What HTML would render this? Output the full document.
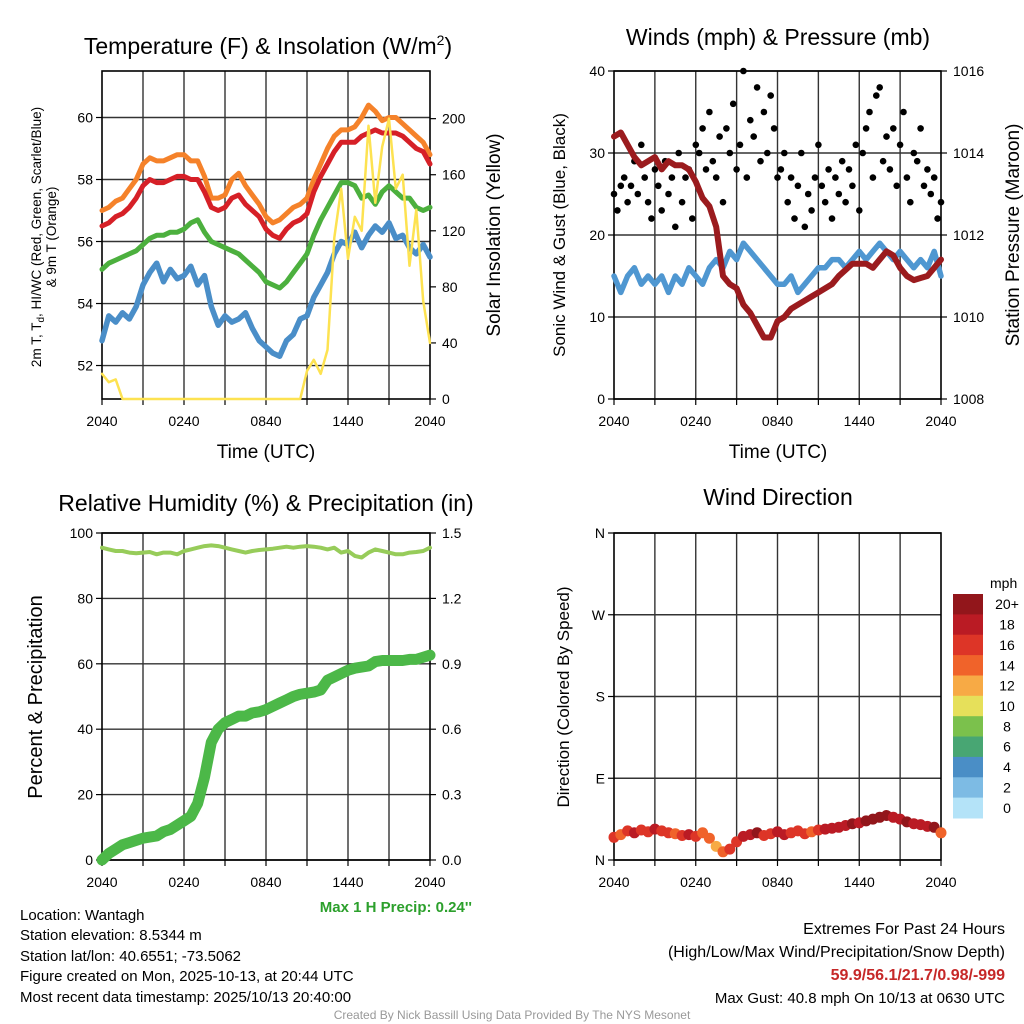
<!DOCTYPE html>
<html><head><meta charset="utf-8"><style>
html,body{margin:0;padding:0;background:#fff;}
svg{display:block;font-family:"Liberation Sans",Arial,sans-serif;}
</style></head><body>
<svg id="fig" width="1024" height="1024" viewBox="0 0 1024 1024" xmlns="http://www.w3.org/2000/svg">
<rect width="1024" height="1024" fill="#fff"/>
<g id="g1"></g>
<g id="g2"></g>
<g id="g3"></g>
<g id="g4"></g>
<text x="268" y="54" font-size="23" text-anchor="middle">Temperature (F) &amp; Insolation (W/m<tspan font-size="14" dy="-9">2</tspan><tspan dy="9">)</tspan></text>
<text x="778" y="45" font-size="23" text-anchor="middle">Winds (mph) &amp; Pressure (mb)</text>
<text x="266" y="511" font-size="23" text-anchor="middle">Relative Humidity (%) &amp; Precipitation (in)</text>
<text x="778" y="505" font-size="23" text-anchor="middle">Wind Direction</text>

<text x="266" y="458" font-size="19" text-anchor="middle">Time (UTC)</text>
<text x="778" y="458" font-size="19" text-anchor="middle">Time (UTC)</text>
<text transform="translate(41,237) rotate(-90)" font-size="13.5" text-anchor="middle">2m T, T<tspan font-size="10" dy="3">d</tspan><tspan dy="-3">, HI/WC (Red, Green, Scarlet/Blue)</tspan></text>
<text transform="translate(56,237) rotate(-90)" font-size="13.5" text-anchor="middle">&amp; 9m T (Orange)</text>
<text transform="translate(500,235) rotate(-90)" font-size="19" text-anchor="middle">Solar Insolation (Yellow)</text>
<text transform="translate(565,235) rotate(-90)" font-size="17" text-anchor="middle">Sonic Wind &amp; Gust (Blue, Black)</text>
<text transform="translate(1019,235) rotate(-90)" font-size="19" text-anchor="middle">Station Pressure (Maroon)</text>
<text transform="translate(42,697) rotate(-90)" font-size="20" text-anchor="middle">Percent &amp; Precipitation</text>
<text transform="translate(569,697) rotate(-90)" font-size="17" text-anchor="middle">Direction (Colored By Speed)</text>

<text x="472" y="912" font-size="15" font-weight="bold" fill="#2ca02c" text-anchor="end">Max 1 H Precip: 0.24''</text>
<g font-size="15">
<text x="20" y="920">Location: Wantagh</text>
<text x="20" y="940">Station elevation: 8.5344 m</text>
<text x="20" y="961">Station lat/lon: 40.6551; -73.5062</text>
<text x="20" y="981">Figure created on Mon, 2025-10-13, at 20:44 UTC</text>
<text x="20" y="1002">Most recent data timestamp: 2025/10/13 20:40:00</text>
</g>
<g font-size="16" text-anchor="end">
<text x="1005" y="934">Extremes For Past 24 Hours</text>
<text x="1005" y="957">(High/Low/Max Wind/Precipitation/Snow Depth)</text>
<text x="1005" y="980" fill="#c62828" font-weight="bold">59.9/56.1/21.7/0.98/-999</text>
<text x="1005" y="1003" font-size="15">Max Gust: 40.8 mph On 10/13 at 0630 UTC</text>
</g>
<text x="512" y="1019" font-size="12" fill="#999" text-anchor="middle">Created By Nick Bassill Using Data Provided By The NYS Mesonet</text>
</svg>
<script>
// ---- data (30-minute samples from 2040 UTC to 2040 UTC) ----
const xTickLabels = ["2040","0240","0840","1440","2040"];
const tempRed = [56.5,56.6,56.8,56.9,57.1,57.4,57.8,58.0,57.9,57.9,58.0,58.1,58.1,58.0,58.0,57.6,57.1,57.0,57.1,57.4,57.5,57.2,57.0,56.8,56.4,56.2,56.1,56.4,56.6,56.7,56.9,57.6,58.1,58.5,58.9,59.2,59.2,59.2,59.4,59.5,59.6,59.5,59.5,59.5,59.4,59.2,59.0,58.9,58.5];
const tempOrange = [57.0,57.1,57.3,57.4,57.7,58.0,58.5,58.7,58.6,58.6,58.7,58.8,58.8,58.6,58.6,58.1,57.4,57.4,57.5,58.0,58.2,57.8,57.5,57.2,56.8,56.6,56.7,56.9,57.1,57.2,57.4,58.0,58.5,59.0,59.4,59.6,59.6,59.7,60.0,60.4,60.2,59.9,60.0,60.0,59.8,59.6,59.4,59.2,58.8];
const dewGreen = [55.1,55.3,55.4,55.5,55.6,55.7,55.9,56.1,56.2,56.2,56.3,56.3,56.4,56.6,56.7,56.3,56.0,55.9,55.8,55.7,55.6,55.4,55.2,55.0,54.7,54.6,54.5,54.7,55.0,55.3,55.6,56.2,56.7,57.1,57.5,57.9,57.9,57.8,57.4,57.5,57.2,57.6,57.8,57.6,57.4,57.4,57.1,57.0,57.1];
const wcBlue = [52.8,53.6,53.4,53.7,53.5,53.9,54.6,55.0,55.3,54.7,55.1,54.8,54.9,55.2,54.6,54.9,53.9,53.3,53.6,53.4,53.5,53.7,53.2,52.8,52.6,52.4,52.3,52.8,53.0,53.5,53.6,54.2,54.6,55.0,55.6,56.0,55.9,56.3,55.8,56.2,56.5,56.3,56.6,56.1,56.2,55.8,55.6,55.9,55.5];
const insolation = [18,12,14,0,0,0,0,0,0,0,0,0,0,0,0,0,0,0,0,0,0,0,0,0,0,0,0,0,0,0,20,28,18,35,115,150,100,130,120,195,140,180,200,150,160,95,135,70,40];
const tempTicks = [52,54,56,58,60];
const solarTicks = [0,40,80,120,160,200];
const windSonic = [15,13,15,16,14,15,14,15,13,15,14,16,15,14,16,17,16,18,17,19,18,17,16,15,14,14,15,13,14,15,16,16,17,17,16,17,18,17,18,19,18,17,18,17,16,17,16,18,15];
const pressure = [1014.4,1014.5,1014.2,1013.9,1013.7,1013.8,1013.9,1013.6,1013.8,1013.7,1013.7,1013.6,1013.3,1012.9,1012.7,1012.2,1011.0,1010.8,1010.7,1010.3,1010.1,1009.8,1009.5,1009.5,1009.9,1010.0,1010.2,1010.3,1010.4,1010.5,1010.6,1010.7,1010.8,1011.0,1011.15,1011.3,1011.3,1011.3,1011.2,1011.4,1011.6,1011.5,1011.2,1011.0,1010.9,1010.95,1011.0,1011.2,1011.4];
// gusts every 15 minutes
const gusts = [25,23,26,27,24,26,29,25,31, 27,24,22,28,26,23,29,25, 27,21,30,24,27,28,22,31, 30,33,28,35,29,27,32,24, 33,30,36,28,31,40,27,34, 32,38,29,35,30,37,33,27, 28,30,24,27,22,26,30,21, 25,23,27,31,26,24,28,22, 27,25,29,24,28,26,31,23, 30,33,35,27,37,38,29,32, 28,33,26,31,35,27,24,30, 29,33,26,28,25,27,22,24];
const windTicks = [0,10,20,30,40];
const pressTicks = [1008,1010,1012,1014,1016];
const rh = [95.5,95,94.5,94.5,94,93.8,94,94.2,93.5,94,94,93.5,94.5,95,95.5,96,96.2,96,95.5,95,94.5,94,94.5,94.8,95,95.2,95.5,95.8,95.5,95.8,96,95.8,95.5,95,95.5,94,94.5,93,92.5,94,95,94.5,94,93.5,93.5,94,94.2,94.5,95.5];
const precip = [0,0.03,0.05,0.07,0.08,0.09,0.10,0.105,0.11,0.13,0.14,0.16,0.18,0.2,0.26,0.38,0.54,0.6,0.63,0.645,0.66,0.66,0.675,0.68,0.69,0.705,0.72,0.735,0.75,0.76,0.765,0.77,0.78,0.825,0.84,0.855,0.87,0.88,0.885,0.89,0.91,0.915,0.915,0.915,0.915,0.92,0.92,0.93,0.94];
const pctTicks = [0,20,40,60,80,100];
const precipTicks = ["0.0","0.3","0.6","0.9","1.2","1.5"];
const direction = [25,28,32,30,33,31,34,32,30,29,27,28,26,30,24,15,9,12,20,26,28,30,27,29,31,28,30,32,29,31,33,34,35,36,38,40,41,43,45,47,49,47,45,42,40,39,37,36,30];
const dirSpeed = [15,14,16,17,16,15,18,16,15,14,16,17,15,14,13,12,14,16,15,18,17,19,16,15,17,18,16,15,16,14,15,17,18,17,18,19,18,20,19,21,20,18,17,19,18,17,18,19,14];
const dirTicks = ["N","E","S","W","N"];
const cbLabels = ["0","2","4","6","8","10","12","14","16","18","20+"];
const cbColors = ["#b4e3f8","#7dbbe4","#4a8ec6","#48a673","#7bc14c","#e6e05a","#f7aa45","#f0632a","#dd3527","#ba1b24","#92161b"];

const NS = "http://www.w3.org/2000/svg";
function mk(parent, tag, attrs, text){
  const e = document.createElementNS(NS, tag);
  for (const k in attrs) e.setAttribute(k, attrs[k]);
  if (text !== undefined) e.textContent = text;
  parent.appendChild(e);
  return e;
}
function xScale(P){ return i => P.L + (P.R - P.L) * i / 48; }
function lin(d0,d1,P){ return v => P.B - (v - d0) / (d1 - d0) * (P.B - P.T); }

function frame(g, P, leftTicks, leftLab, rightTicks, rightLab, name){
  for (let k = 1; k < 8; k++){
    const x = P.L + (P.R-P.L)*k/8;
    const l = mk(g,'line',{x1:x,x2:x,y1:P.T,y2:P.B,stroke:'#333','stroke-width':1.4});
    
    
  }
  leftTicks.forEach((y,i)=>{
    const l = mk(g,'line',{x1:P.L,x2:P.R,y1:y,y2:y,stroke:'#333','stroke-width':1.4});
    
    
    mk(g,'line',{x1:P.L-6,x2:P.L,y1:y,y2:y,stroke:'#000','stroke-width':1.2});
    const t = mk(g,'text',{x:P.L-9,y:y+5,'font-size':14,'text-anchor':'end'}, leftLab[i]);
    
    
  });
  if (rightTicks) rightTicks.forEach((y,i)=>{
    mk(g,'line',{x1:P.R,x2:P.R+6,y1:y,y2:y,stroke:'#000','stroke-width':1.2});
    const t = mk(g,'text',{x:P.R+12,y:y+5,'font-size':14}, rightLab[i]);
    
    
  });
  for (let k = 0; k <= 8; k++){
    const x = P.L + (P.R-P.L)*k/8;
    mk(g,'line',{x1:x,x2:x,y1:P.B,y2:P.B+6,stroke:'#000','stroke-width':1.2});
  }
  xTickLabels.forEach((s,k)=>{
    const x = P.L + (P.R-P.L)*k/4;
    const t = mk(g,'text',{x:x,y:P.B+27,'font-size':14,'text-anchor':'middle'}, s);
    
    
  });
  const r = mk(g,'rect',{x:P.L,y:P.T,width:P.R-P.L,height:P.B-P.T,fill:'none',stroke:'#000','stroke-width':1.6});
  
  
}
function path(g, arr, xs, ys, style, name){
  const d = arr.map((v,i)=>(i?'L':'M')+xs(i).toFixed(1)+','+ys(v).toFixed(1)).join(' ');
  const p = mk(g,'path',Object.assign({d:d,fill:'none','stroke-linejoin':'round','stroke-linecap':'round'},style));
  
  
  return p;
}

(function(){
  const g = document.getElementById('g1');
  const P = {L:102,R:430,T:71,B:399};
  const xs = xScale(P);
  const yT = lin(50.92,61.5,P);
  const yS = lin(0,234,P);
  frame(g,P,tempTicks.map(yT),tempTicks.map(String),solarTicks.map(yS),solarTicks.map(String),'p1');
  path(g,tempOrange,xs,yT,{stroke:'#f5822a','stroke-width':5},'orange-9m-temp-line');
  path(g,tempRed,xs,yT,{stroke:'#d62027','stroke-width':5},'red-2m-temp-line');
  path(g,dewGreen,xs,yT,{stroke:'#4cb03e','stroke-width':5},'green-dewpoint-line');
  path(g,wcBlue,xs,yT,{stroke:'#4a8ec8','stroke-width':5.5},'blue-windchill-line');
  path(g,insolation,xs,yS,{stroke:'#fde251','stroke-width':2.5},'yellow-insolation-line');
})();

(function(){
  const g = document.getElementById('g2');
  const P = {L:614,R:941,T:71,B:399};
  const xs = xScale(P);
  const yW = lin(0,40,P);
  const yP = lin(1008,1016,P);
  frame(g,P,windTicks.map(yW),windTicks.map(String),pressTicks.map(yP),pressTicks.map(String),'p2');
  path(g,windSonic,xs,yW,{stroke:'#4f97d1','stroke-width':5.5},'sonic-wind-line');
  gusts.forEach((v,i)=>{
    const c = mk(g,'circle',{cx:(P.L+(P.R-P.L)*i/96).toFixed(1),cy:yW(v).toFixed(1),r:3.3,fill:'#000'});
    
    
  });
  path(g,pressure,xs,yP,{stroke:'#9b1b1e','stroke-width':6},'pressure-line');
})();

(function(){
  const g = document.getElementById('g3');
  const P = {L:102,R:430,T:533,B:860};
  const xs = xScale(P);
  const yPct = lin(0,100,P);
  const yIn = lin(0,1.5,P);
  frame(g,P,pctTicks.map(yPct),pctTicks.map(String),precipTicks.map(s=>yIn(parseFloat(s))),precipTicks,'p3');
  path(g,rh,xs,yPct,{stroke:'#97cc5a','stroke-width':4},'relative-humidity-line');
  path(g,precip,xs,yIn,{stroke:'#4cb848','stroke-width':11},'precipitation-line');
})();

(function(){
  const g = document.getElementById('g4');
  const P = {L:614,R:941,T:533,B:860};
  const xs = xScale(P);
  const yD = lin(0,360,P);
  frame(g,P,[0,90,180,270,360].map(yD),dirTicks,null,null,'p4');
  direction.forEach((v,i)=>{
    const ci = Math.min(10,Math.max(0,Math.round(dirSpeed[i]/2)));
    const c = mk(g,'circle',{cx:xs(i).toFixed(1),cy:yD(v).toFixed(1),r:5.5,fill:cbColors[ci]});
    
    
  });
  const top = 594, h = 224/11;
  const t0 = mk(g,'text',{x:990,y:588,'font-size':14}, 'mph');
  
  
  cbLabels.forEach((s,k)=>{
    const idx = cbLabels.length-1-k;
    const y = top + k*h;
    const r = mk(g,'rect',{x:953,y:y.toFixed(1),width:30,height:(h+0.5).toFixed(1),fill:cbColors[idx]});
    
    
    const t = mk(g,'text',{x:1007,y:(y+h/2+5).toFixed(1),'font-size':14,'text-anchor':'middle'}, cbLabels[idx]);
    
    
  });
})();
</script>
</body></html>
